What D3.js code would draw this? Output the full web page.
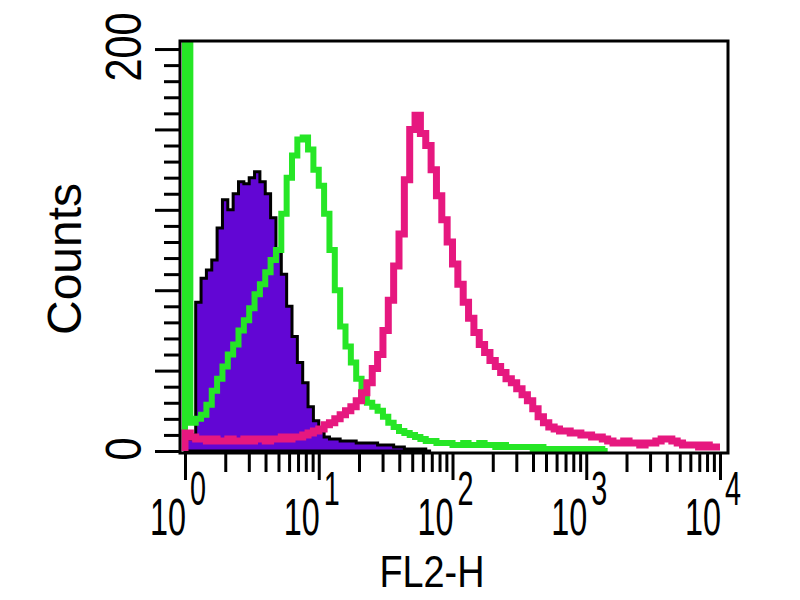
<!DOCTYPE html>
<html>
<head>
<meta charset="utf-8">
<script src="https://cdn.jsdelivr.net/npm/d3@7"></script>
<style>
  body { margin: 0; background: #fff; }
  text { font-family: "Liberation Sans", Arial, Helvetica, sans-serif; fill: #000; }
</style>
</head>
<body>
<div id="chart"></div>
<script>
// histogram counts, 25 bins per decade starting at 10^0 (FL2-H channel)
const binsPerDecade = 25;

const isotype = [6,8,74,86,90,95,111,125,120,128,134,133,136,139,134,128,116,100,88,72,
  57,44,34,22,15,10,7,6,6,5,5,5,4,4,4,4,3,3,3,2,2,1,1,1,1,0];

const greenCounts = [250,14,16,18,23,30,36,42,48,53,60,65,71,78,83,89,95,100,118,136,
  147,155,156,150,140,132,118,100,80,62,52,44,36,30,24,22,20,17,14,12,
  10,9,8,7,6,5,5,4,4,4,3,3,4,3,3,4,3,3,2,3,
  2,2,2,2,2,1,2,1,1,1,1,1,1,1,1,0,1,1,0];

const magentaCounts = [9,7,6,6,5,6,5,5,6,5,5,6,5,6,6,5,6,6,7,6,
  7,7,8,9,10,11,13,14,16,18,20,22,25,29,34,41,48,60,75,92,
  108,135,160,167,158,152,140,127,115,104,93,83,74,66,59,53,49,45,42,39,
  36,34,31,28,25,21,17,14,12,11,10,10,9,9,8,8,7,7,6,5,
  4,4,5,4,4,3,4,4,5,6,6,5,4,3,3,3,2,3,2,2];

const xMajor = [1, 10, 100, 1000, 10000];
const xExp = ["0", "1", "2", "3", "4"];
const yMajor = [0, 40, 80, 120, 160, 200];
const yLabels = [0, 200];

const width = 800, height = 600;
const frame = {left: 180, right: 728, top: 41, bottom: 453};

const svg = d3.select("#chart").append("svg")
  .attr("width", width)
  .attr("height", height);

svg.append("rect").attr("width", width).attr("height", height).attr("fill", "#fff");

const x = d3.scaleLog().domain([1, 10000]).range([185, 720]);
const y = d3.scaleLinear().domain([0, 204]).range([451, 41]);

// bin edge value for index i
const edge = i => Math.pow(10, i / binsPerDecade);

function stepPoints(counts, withStart) {
  const pts = counts.map((c, i) => [edge(i), c]);
  pts.push([edge(counts.length), counts[counts.length - 1]]);
  if (withStart) pts.unshift([edge(0), 0]);
  return pts;
}

svg.append("clipPath").attr("id", "plotClip")
  .append("rect")
  .attr("x", frame.left).attr("y", frame.top)
  .attr("width", frame.right - frame.left)
  .attr("height", frame.bottom - frame.top);

const plot = svg.append("g").attr("clip-path", "url(#plotClip)");

const area = d3.area()
  .x(d => x(d[0]))
  .y0(y(0))
  .y1(d => y(d[1]))
  .curve(d3.curveStepAfter);

const line = d3.line()
  .x(d => x(d[0]))
  .y(d => y(d[1]))
  .curve(d3.curveStepAfter);

// filled control histogram
plot.append("path")
  .attr("d", area(stepPoints(isotype, false)))
  .attr("fill", "#6206d4")
  .attr("stroke", "#000")
  .attr("stroke-width", 3);

plot.append("path")
  .attr("d", line(stepPoints(greenCounts, true)))
  .attr("fill", "none")
  .attr("stroke", "#26e626")
  .attr("stroke-width", 6);

plot.append("path")
  .attr("d", line(stepPoints(magentaCounts, true)))
  .attr("fill", "none")
  .attr("stroke", "#e6187f")
  .attr("stroke-width", 7);

// frame
svg.append("rect")
  .attr("x", frame.left).attr("y", frame.top)
  .attr("width", frame.right - frame.left)
  .attr("height", frame.bottom - frame.top)
  .attr("fill", "none")
  .attr("stroke", "#000")
  .attr("stroke-width", 3);

// y ticks
const yMinor = d3.range(0, 201, 8).filter(v => yMajor.indexOf(v) < 0);
const yMinorAxis = svg.append("g")
  .attr("transform", "translate(" + frame.left + ",0)")
  .call(d3.axisLeft(y).tickValues(yMinor).tickSize(16).tickFormat(""));
const yMajorAxis = svg.append("g")
  .attr("transform", "translate(" + frame.left + ",0)")
  .call(d3.axisLeft(y).tickValues(yMajor).tickSize(25).tickFormat(""));

// x ticks
const xMinor = [];
xMajor.slice(0, -1).forEach(d => { for (let k = 2; k < 10; k++) xMinor.push(d * k); });
const xMinorAxis = svg.append("g")
  .attr("transform", "translate(0," + frame.bottom + ")")
  .call(d3.axisBottom(x).tickValues(xMinor).tickSize(19).tickFormat(""));
const xMajorAxis = svg.append("g")
  .attr("transform", "translate(0," + frame.bottom + ")")
  .call(d3.axisBottom(x).tickValues(xMajor).tickSize(27).tickFormat(""));

[yMinorAxis, yMajorAxis, xMinorAxis, xMajorAxis].forEach(g => {
  g.select(".domain").remove();
  g.selectAll(".tick line").attr("stroke", "#000").attr("stroke-width", 3);
});

// y labels (rotated)
svg.selectAll(".ylab")
  .data(yLabels)
  .enter().append("text")
  .attr("class", "ylab")
  .attr("transform", d => "translate(141," + (y(d) - 2) + ") rotate(-90)")
  .attr("text-anchor", "middle")
  .attr("font-size", 50)
  .attr("textLength", d => String(d).length * 23)
  .attr("lengthAdjust", "spacingAndGlyphs")
  .text(d => d);

// x labels: 10 with superscript exponent
const xl = svg.selectAll(".xlab")
  .data(xMajor)
  .enter().append("g")
  .attr("class", "xlab");

xl.append("text")
  .attr("x", d => x(d) + 1)
  .attr("y", 535)
  .attr("text-anchor", "end")
  .attr("font-size", 51)
  .attr("textLength", 36)
  .attr("lengthAdjust", "spacingAndGlyphs")
  .text("10");

xl.append("text")
  .attr("x", d => x(d) + 5)
  .attr("y", 505)
  .attr("text-anchor", "start")
  .attr("font-size", 48)
  .attr("textLength", 16)
  .attr("lengthAdjust", "spacingAndGlyphs")
  .text((d, i) => xExp[i]);

// axis titles
svg.append("text")
  .attr("x", 432)
  .attr("y", 587)
  .attr("text-anchor", "middle")
  .attr("font-size", 45)
  .attr("textLength", 105)
  .attr("lengthAdjust", "spacingAndGlyphs")
  .text("FL2-H");

svg.append("text")
  .attr("transform", "translate(81,259) rotate(-90)")
  .attr("text-anchor", "middle")
  .attr("font-size", 48)
  .attr("textLength", 152)
  .attr("lengthAdjust", "spacingAndGlyphs")
  .text("Counts");
</script>
</body>
</html>
